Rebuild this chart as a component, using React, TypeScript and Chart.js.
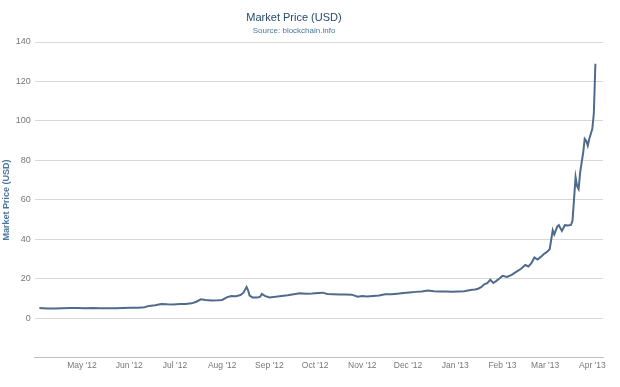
import React, { useEffect, useRef } from "react";
import { Chart, registerables } from "chart.js";

Chart.register(...registerables);

const dates: string[] = [
  "2012-04-03", "2012-04-08", "2012-04-13", "2012-04-18", "2012-04-23", "2012-04-28",
  "2012-05-03", "2012-05-08", "2012-05-13", "2012-05-18", "2012-05-23", "2012-05-28",
  "2012-06-02", "2012-06-07", "2012-06-11", "2012-06-14", "2012-06-18", "2012-06-22",
  "2012-06-26", "2012-06-30", "2012-07-04", "2012-07-08", "2012-07-12", "2012-07-15",
  "2012-07-18", "2012-07-21", "2012-07-25", "2012-07-29", "2012-08-01", "2012-08-04",
  "2012-08-07", "2012-08-10", "2012-08-13", "2012-08-15", "2012-08-17", "2012-08-18",
  "2012-08-19", "2012-08-21", "2012-08-24", "2012-08-26", "2012-08-27", "2012-08-29",
  "2012-09-01", "2012-09-05", "2012-09-09", "2012-09-13", "2012-09-17", "2012-09-21",
  "2012-09-25", "2012-09-29", "2012-10-03", "2012-10-06", "2012-10-09", "2012-10-13",
  "2012-10-17", "2012-10-21", "2012-10-25", "2012-10-29", "2012-11-01", "2012-11-04",
  "2012-11-08", "2012-11-12", "2012-11-16", "2012-11-20", "2012-11-24", "2012-11-28",
  "2012-12-02", "2012-12-06", "2012-12-10", "2012-12-14", "2012-12-18", "2012-12-22",
  "2012-12-26", "2012-12-30", "2013-01-03", "2013-01-07", "2013-01-11", "2013-01-14",
  "2013-01-16", "2013-01-18", "2013-01-20", "2013-01-22", "2013-01-24", "2013-01-26",
  "2013-01-28", "2013-01-30", "2013-02-01", "2013-02-04", "2013-02-07", "2013-02-10",
  "2013-02-13", "2013-02-16", "2013-02-18", "2013-02-20", "2013-02-22", "2013-02-24",
  "2013-02-26", "2013-02-28", "2013-03-02", "2013-03-04", "2013-03-06", "2013-03-07",
  "2013-03-09", "2013-03-10", "2013-03-12", "2013-03-14", "2013-03-16", "2013-03-18",
  "2013-03-19", "2013-03-21", "2013-03-22", "2013-03-23", "2013-03-24", "2013-03-25",
  "2013-03-26", "2013-03-27", "2013-03-28", "2013-03-29", "2013-03-30", "2013-03-31",
  "2013-04-01", "2013-04-02", "2013-04-03",
];

const prices: number[] = [
  5.2, 5.0, 5.0, 5.1, 5.2, 5.2,
  5.1, 5.2, 5.1, 5.1, 5.1, 5.2,
  5.3, 5.4, 5.6, 6.3, 6.6, 7.3,
  7.1, 7.0, 7.2, 7.3, 7.6, 8.4,
  9.6, 9.3, 9.0, 9.1, 9.3, 10.6,
  11.3, 11.2, 11.8, 13.0, 15.9, 14.2,
  11.5, 10.6, 10.5, 11.0, 12.4, 11.4,
  10.6, 10.9, 11.3, 11.7, 12.2, 12.7,
  12.5, 12.6, 12.8, 13.0, 12.3, 12.2,
  12.1, 12.1, 12.0, 10.9, 11.3, 11.0,
  11.3, 11.6, 12.2, 12.2, 12.5, 12.8,
  13.1, 13.4, 13.6, 14.1, 13.7, 13.6,
  13.6, 13.5, 13.6, 13.7, 14.4, 14.6,
  15.0, 15.8, 17.2, 17.8, 19.5, 17.9,
  19.0, 20.2, 21.5, 21.0, 22.0, 23.5,
  25.0, 27.0, 26.3, 28.0, 30.8, 29.8,
  31.0, 32.5, 33.5, 35.0, 44.6, 42.5,
  46.5, 47.2, 44.3, 47.2, 47.0, 47.3,
  49.5, 71.5, 67.0, 65.5, 74.0, 79.0,
  84.0, 91.0, 90.0, 87.5, 91.0, 93.5,
  96.0, 104.0, 129.0,
];

const monthTickDates: string[] = [
  "2012-05-01", "2012-06-01", "2012-07-01", "2012-08-01", "2012-09-01", "2012-10-01",
  "2012-11-01", "2012-12-01", "2013-01-01", "2013-02-01", "2013-03-01", "2013-04-01",
];
const monthTickLabels: string[] = [
  "May '12", "Jun '12", "Jul '12", "Aug '12", "Sep '12", "Oct '12",
  "Nov '12", "Dec '12", "Jan '13", "Feb '13", "Mar '13", "Apr '13",
];

const yTicks: number[] = [-20, 0, 20, 40, 60, 80, 100, 120, 140];

const ORIGIN = Date.UTC(2012, 3, 1);
const dayOf = (s: string) => {
  const [y, m, d] = s.split("-").map(Number);
  return (Date.UTC(y, m - 1, d) - ORIGIN) / 86400000;
};

const FONT = "'Liberation Sans', Arial, sans-serif";

const titlePlugin = {
  id: "customTitles",
  afterDraw(chart: any) {
    const ctx = chart.ctx;
    ctx.save();
    ctx.textAlign = "center";
    ctx.textBaseline = "middle";
    ctx.fillStyle = "#274b6d";
    ctx.font = `11px ${FONT}`;
    ctx.fillText("Market Price (USD)", 294, 18);
    ctx.fillStyle = "#4d759e";
    ctx.font = `8px ${FONT}`;
    ctx.fillText("Source: blockchain.info", 294, 31);
    ctx.restore();
  },
};

export default function App() {
  const ref = useRef<HTMLCanvasElement | null>(null);
  useEffect(() => {
    if (!ref.current) return;
    const points = dates.map((d, i) => ({ x: dayOf(d), y: prices[i] }));
    const tickValues = monthTickDates.map(dayOf);
    const chart = new Chart(ref.current, {
      type: "line",
      data: {
        datasets: [
          {
            label: "Market Price (USD)",
            data: points,
            borderColor: "#4f6b8c",
            borderWidth: 2,
            pointRadius: 0,
            tension: 0,
            fill: false,
          },
        ],
      },
      options: {
        animation: false,
        responsive: false,
        maintainAspectRatio: false,
        layout: { padding: { top: 42, right: 17, bottom: 13, left: 1 } },
        plugins: {
          legend: { display: false },
          title: { display: false },
          tooltip: { enabled: false },
        },
        scales: {
          x: {
            type: "linear",
            min: -1,
            max: 372,
            grid: { display: false, drawTicks: false },
            border: { display: true, color: "#c0c0c0", width: 1 },
            afterBuildTicks: (axis: any) => {
              axis.ticks = tickValues.map((v) => ({ value: v }));
            },
            ticks: {
              autoSkip: false,
              maxRotation: 0,
              padding: 3,
              color: "#777",
              font: { family: FONT, size: 8.5 },
              callback: (v: any) => {
                const i = tickValues.indexOf(Number(v));
                return i >= 0 ? monthTickLabels[i] : "";
              },
            },
          },
          y: {
            min: -20,
            max: 140,
            afterBuildTicks: (axis: any) => {
              axis.ticks = yTicks.map((v) => ({ value: v }));
            },
            grid: { color: "#d8d8d8", drawTicks: false, lineWidth: 1 },
            border: { display: false },
            ticks: {
              padding: 4,
              color: "#777",
              font: { family: FONT, size: 9 },
              callback: (v: any) => (Number(v) < 0 ? "" : String(v)),
            },
            title: {
              display: true,
              text: "Market Price (USD)",
              color: "#4d759e",
              font: { family: FONT, size: 9, weight: "bold" },
              padding: { top: 0, bottom: 0 },
            },
          },
        },
      },
      plugins: [titlePlugin],
    });
    return () => chart.destroy();
  }, []);
  return (
    <div style={{ position: "fixed", left: 0, top: 0, width: 620, height: 387, background: "#fff" }}>
      <canvas ref={ref} width={620} height={387} style={{ width: 620, height: 387 }} />
    </div>
  );
}
